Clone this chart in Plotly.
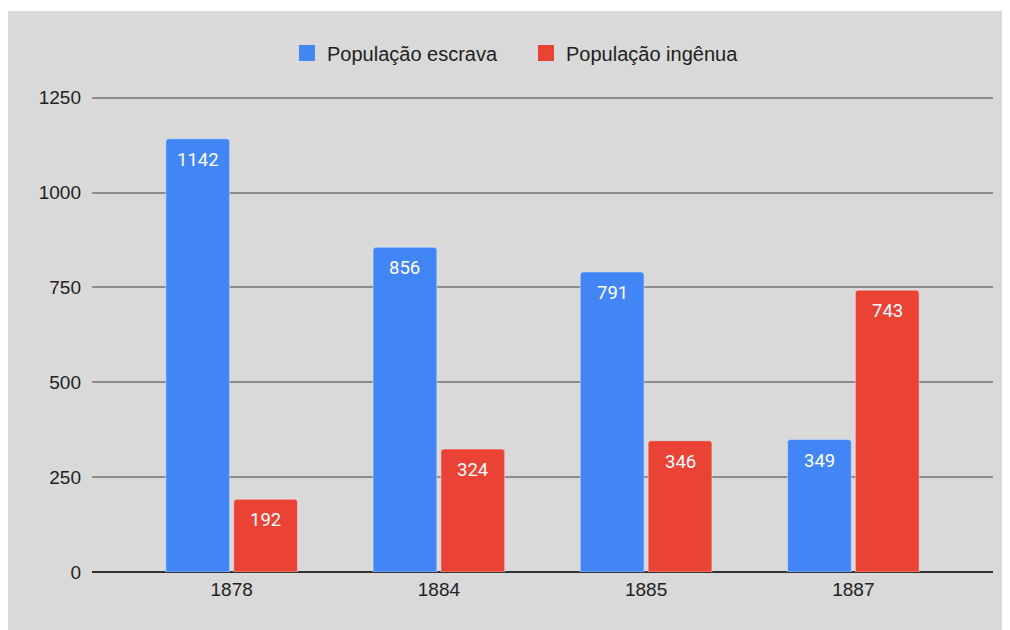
import plotly.graph_objects as go

years = ["1878", "1884", "1885", "1887"]
escrava = [1142, 856, 791, 349]
ingenua = [192, 324, 346, 743]
y_ticks = [0, 250, 500, 750, 1000, 1250]
series = [("População escrava", escrava, "#4285f4"),
          ("População ingênua", ingenua, "#ea4335")]

BG = "#d9d9d9"
OFF = 8  # page body margin
W, H = 1010 - OFF, 630 - OFF
YMAX = 1260
L, R, B = 92 - OFF, 17, 58
ph = round(474 * YMAX / 1250)
T = H - B - ph
pw = W - L - R
BARGAP, GROUPGAP = 0.345, 0.06

fig = go.Figure()
for name, vals, col in series:
    fig.add_trace(go.Bar(name=name, x=years, y=vals, marker_color=col,
                         showlegend=False, hoverinfo="x+y"))
    fig.add_trace(go.Scatter(name=name, x=[None], y=[None], mode="markers",
                             marker=dict(symbol="square", size=16, color=col),
                             showlegend=True))

# value labels inside bar tops
slot = (1 - BARGAP) / len(series)
for k, (name, vals, col) in enumerate(series):
    off = -(1 - BARGAP) / 2 + slot * (k + 0.5)
    for i, v in enumerate(vals):
        fig.add_annotation(x=i + off, y=v, xref="x", yref="y", text=str(v),
                           showarrow=False, yanchor="middle", yshift=-21,
                           font=dict(family="Roboto", size=18.5, color="white"))

fig.add_shape(type="rect", xref="paper", yref="paper",
              x0=(-20 - L) / pw, x1=(W + 20 - L) / pw,
              y0=(H - B - (H + 20)) / ph, y1=(H - B - (11 - OFF)) / ph,
              fillcolor=BG, line_width=0, layer="below")

fig.update_layout(
    width=W, height=H,
    margin=dict(l=L, r=R, t=T, b=B),
    paper_bgcolor="white", plot_bgcolor="rgba(0,0,0,0)",
    barmode="group", bargap=BARGAP, bargroupgap=GROUPGAP, barcornerradius=3,
    font=dict(family="Liberation Sans, Arial", size=19, color="#222222"),
    legend=dict(orientation="h", x=(305 - 30 - 92 + 12) / pw, xanchor="left",
                y=(H - B - (53 - OFF)) / ph, yanchor="middle",
                font=dict(size=20, color="#222222"), entrywidth=194,
                entrywidthmode="pixels",
                bgcolor="rgba(0,0,0,0)", itemwidth=30, traceorder="normal"),
    xaxis=dict(type="category", range=[-0.674, 3.674], showgrid=False,
               showline=False, ticks="", tickfont=dict(size=19),
               ticklabelstandoff=4),
    yaxis=dict(range=[0, YMAX], tickvals=y_ticks, showgrid=True,
               gridcolor="#8c8c8c", gridwidth=2, zeroline=True,
               zerolinecolor="#333333", zerolinewidth=2, ticks="",
               ticklabelstandoff=10, tickfont=dict(size=19)),
)

fig.write_html("out.html")
